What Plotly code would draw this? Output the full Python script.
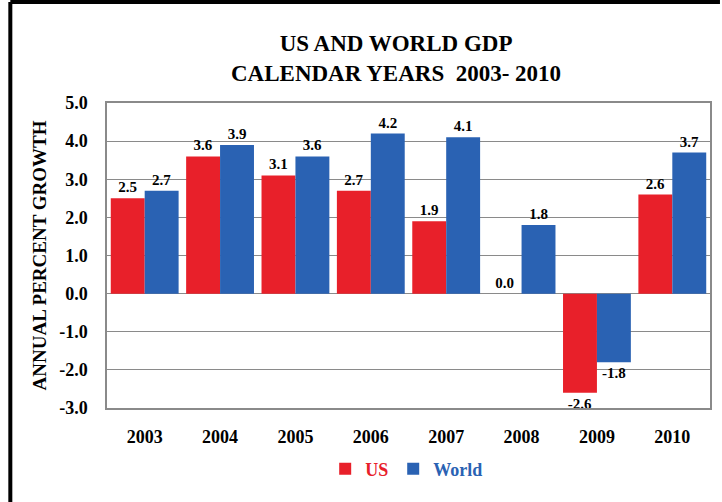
import plotly.graph_objects as go

years = ["2003", "2004", "2005", "2006", "2007", "2008", "2009", "2010"]
us_growth = [2.5, 3.6, 3.1, 2.7, 1.9, 0.0, -2.6, 2.6]
world_growth = [2.7, 3.9, 3.6, 4.2, 4.1, 1.8, -1.8, 3.7]
y_ticks = [5, 4, 3, 2, 1, 0, -1, -2, -3]

RED = "#e8202a"
BLUE = "#2a62b3"
FONT = "Liberation Serif"

W, H = 722, 502
L, R, T, B = 107, 10, 103, 94
pw, ph = W - L - R, H - T - B


def px_to_paper(x, y):
    return (x - L) / pw, (H - B - y) / ph


label_font = dict(family=FONT, size=15, color="black", weight="bold")

fig = go.Figure()
fig.add_trace(go.Bar(
    x=years, y=us_growth, name=f"<span style='color:{RED}'>US</span>",
    marker=dict(color=RED, line=dict(width=0)),
    text=[f"{v:.1f}" for v in us_growth], textposition="outside",
    textfont=label_font, cliponaxis=False,
))
fig.add_trace(go.Bar(
    x=years, y=world_growth, name=f"<span style='color:{BLUE}'>World</span>",
    marker=dict(color=BLUE, line=dict(width=0)),
    text=[f"{v:.1f}" for v in world_growth], textposition="outside",
    textfont=label_font, cliponaxis=False,
))

# frame lines along the top and left edges of the page
x0, y0 = px_to_paper(10, 502)
x1, y1 = px_to_paper(10, 2)
x2, _ = px_to_paper(722, 2)
fig.add_shape(type="line", xref="paper", yref="paper", x0=x0, y0=y0, x1=x1, y1=y1,
              line=dict(color="black", width=4), layer="above")
fig.add_shape(type="line", xref="paper", yref="paper", x0=x1, y0=y1, x1=x2, y1=y1,
              line=dict(color="black", width=4), layer="above")

tx, _ = px_to_paper(397, 57)
fig.update_layout(
    width=W, height=H,
    margin=dict(l=L, r=R, t=T, b=B),
    paper_bgcolor="white", plot_bgcolor="white",
    barmode="group", bargap=0.1, bargroupgap=0,
    font=dict(family=FONT, color="black"),
    title=dict(
        text="<b>US AND WORLD GDP<br>CALENDAR YEARS  2003- 2010</b>",
        x=tx, xref="paper", xanchor="center", y=1 - 51 / H, yref="container", yanchor="middle",
        font=dict(family=FONT, size=23, color="black"),
    ),
    showlegend=True,
    legend=dict(
        orientation="h", x=0.497, xanchor="center", y=-0.2, yanchor="middle",
        font=dict(family=FONT, size=18, weight="bold"),
        itemwidth=30, traceorder="normal", tracegroupgap=0,
    ),
    xaxis=dict(
        showgrid=False, showline=True, linecolor="#8a8a8a", linewidth=1.5, mirror=True,
        tickfont=dict(family=FONT, size=18, color="black", weight="bold"),
        ticks="", ticklabelstandoff=12,
    ),
    yaxis=dict(
        range=[-3, 5], tickvals=y_ticks, ticktext=[f"{v:.1f}" for v in y_ticks],
        showgrid=True, gridcolor="#8a8a8a", gridwidth=1.2,
        showline=True, linecolor="#8a8a8a", linewidth=1.5, mirror=True,
        zeroline=False,
        tickfont=dict(family=FONT, size=18, color="black", weight="bold"),
        ticks="", ticklabelstandoff=14,
        title=dict(text="<b>ANNUAL PERCENT GROWTH</b>", standoff=8,
                   font=dict(family=FONT, size=19, color="black")),
    ),
)

fig.write_html("out.html")
